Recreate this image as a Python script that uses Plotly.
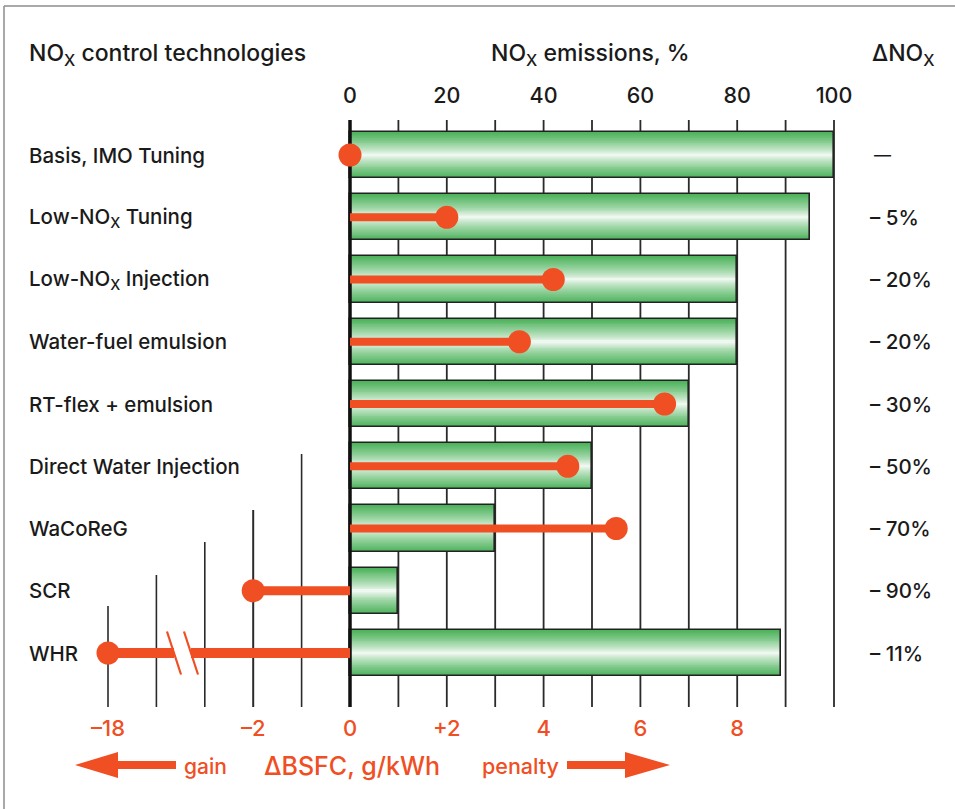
import plotly.graph_objects as go

# ---------------- data ----------------
categories = ["Basis, IMO Tuning", "Low-NO<sub>X</sub> Tuning", "Low-NO<sub>X</sub> Injection",
              "Water-fuel emulsion", "RT-flex + emulsion", "Direct Water Injection",
              "WaCoReG", "SCR", "WHR"]
nox_pct = [100, 95, 80, 80, 70, 50, 30, 10, 89]          # NOx emissions, %
bsfc = [0, 2, 4.2, 3.5, 6.5, 4.5, 5.5, -2, -18]           # delta BSFC, g/kWh
delta_nox = ["—", "– 5%", "– 20%", "– 20%", "– 30%", "– 50%", "– 70%", "– 90%", "– 11%"]

nox_ticks = [0, 20, 40, 60, 80, 100]
bsfc_ticks = [-18, -2, 0, 2, 4, 6, 8]
bsfc_ticktext = ["–18", "–2", "0", "+2", "4", "6", "8"]
nox_grid = [10, 20, 30, 40, 50, 60, 70, 80, 90, 100]
bsfc_grid = [-18, -4, -3, -2, -1]

# ---------------- styling / geometry ----------------
W, H = 955, 809
PX0, PX100 = 350, 834            # pixel of 0 % and 100 %
PPU = (PX100 - PX0) / 100.0
ROW0, ROWSTEP = 155, 62.25       # pixel centre of first row, row spacing
TOP, BOT = 108, 707              # plot area top / bottom pixel
RED = "#f04e23"
GREEN = (78, 179, 92)
FONT = "Inter, DejaVu Sans, sans-serif"
WEIGHT = 500
TXT = "#1a1a1a"
BAR_W = 0.74


def px2x(px):
    return (px - PX0) / PPU


def py2row(py):
    return (py - ROW0) / ROWSTEP


def px2paper(px):
    return px / W


def py2paper(py):
    return (BOT - py) / (BOT - TOP)


def bsfc_pos(v):
    """ΔBSFC (g/kWh) -> position on the broken BSFC axis (linear down to -4, -18 one step beyond)."""
    if v >= -4:
        return v
    return -4 - (-4 - v) / 14


def font(size, color=TXT):
    return dict(size=size, color=color, family=FONT, weight=WEIGHT)


rows = list(range(len(categories)))
xrange_ = [px2x(0), px2x(W)]
x2range_ = [v / 10 for v in xrange_]   # 2 g/kWh per 20 %
yrange_ = [py2row(BOT), py2row(TOP)]

fig = go.Figure()

# gradient bars: stacked overlay of narrowing bands
N = 24
for k in range(N):
    d = 1 - k / N
    t = d ** 0.75
    c = tuple(int(round(255 * (1 - t) + g * t)) for g in GREEN)
    fig.add_trace(go.Bar(
        y=rows, x=nox_pct, orientation="h", width=BAR_W * d,
        marker=dict(color="rgb(%d,%d,%d)" % c, line=dict(width=0)),
        hoverinfo="skip", showlegend=False))
# outline
fig.add_trace(go.Bar(
    y=rows, x=nox_pct, orientation="h", width=BAR_W,
    marker=dict(color="rgba(0,0,0,0)", line=dict(color="#222", width=1.6)),
    hoverinfo="skip", showlegend=False))

# zero line
fig.add_trace(go.Scatter(x=[0, 0], y=[py2row(120), py2row(BOT)], mode="lines",
                         line=dict(color="#111", width=3.5), hoverinfo="skip", showlegend=False))

# red stems on the BSFC axis (x2)
BREAK = (px2x(174) / 10, px2x(191) / 10)
for r, v in zip(rows, bsfc):
    xv = bsfc_pos(v)
    lw = 8 if v >= -1 else (9 if v >= -4 else 10)
    if v < -4:
        segs = [(xv, BREAK[0]), (BREAK[1], 0)]
    else:
        segs = [(0, xv)]
    for a, b in segs:
        fig.add_trace(go.Scatter(x=[a, b], y=[r, r], mode="lines", xaxis="x2",
                                 line=dict(color=RED, width=lw), hoverinfo="skip", showlegend=False))
    if v < -4:
        for cx in BREAK:
            fig.add_trace(go.Scatter(x=[cx - 0.145, cx + 0.145], y=[r - 0.345, r + 0.345], mode="lines",
                                     xaxis="x2", line=dict(color=RED, width=2.2),
                                     hoverinfo="skip", showlegend=False))

# red dots
fig.add_trace(go.Scatter(x=[bsfc_pos(v) for v in bsfc], y=rows, mode="markers", xaxis="x2",
                         marker=dict(color=RED, size=23, line=dict(width=0)),
                         hoverinfo="skip", showlegend=False))

shapes = []
# grid lines
for g in nox_grid:
    shapes.append(dict(type="line", xref="x", yref="y", x0=g, x1=g, y0=py2row(120), y1=py2row(BOT),
                       line=dict(color="#2a2a2a", width=1.8), layer="below"))
grid_tops = [606, 575, 542, 510, 454]
for g, tp in zip(bsfc_grid, grid_tops):
    xg = bsfc_pos(g)
    shapes.append(dict(type="line", xref="x2", yref="y", x0=xg, x1=xg, y0=py2row(tp), y1=py2row(BOT),
                       line=dict(color="#2a2a2a", width=2.0 if g == -2 else 1.6), layer="below"))
# frame
shapes.append(dict(type="line", xref="paper", yref="paper", x0=px2paper(4), x1=px2paper(4),
                   y0=py2paper(6), y1=py2paper(H + 5), line=dict(color="#8c8c8c", width=1.5)))
shapes.append(dict(type="line", xref="paper", yref="paper", x0=px2paper(4), x1=px2paper(W + 5),
                   y0=py2paper(6), y1=py2paper(6), line=dict(color="#8c8c8c", width=1.5)))


def arrow(pts):
    path = "M " + " L ".join("%f,%f" % (px2paper(x), py2paper(y)) for x, y in pts) + " Z"
    return dict(type="path", xref="paper", yref="paper", path=path,
                fillcolor=RED, line=dict(width=0))


shapes.append(arrow([(176, 761), (118, 761), (118, 752), (75, 765), (118, 778), (118, 769), (176, 769)]))
shapes.append(arrow([(567, 761), (625, 761), (625, 752), (670, 765), (625, 778), (625, 769), (567, 769)]))

ann = []
for r, c in zip(rows, categories):
    ann.append(dict(x=px2paper(27), xref="paper", y=r, yref="y", text=c, showarrow=False,
                    xanchor="left", yanchor="middle", font=font(20.5)))
for r, d in zip(rows, delta_nox):
    ann.append(dict(x=px2paper(868 if d != "—" else 872), xref="paper", y=r, yref="y", text=d,
                    showarrow=False, xanchor="left", yanchor="middle",
                    font=font(20.5 if d != "—" else 17)))
hdr = [(27, "left", "NO<sub>X</sub> control technologies"),
       (590, "center", "NO<sub>X</sub> emissions, %"),
       (936, "right", "ΔNO<sub>X</sub>")]
for x, anc, t in hdr:
    ann.append(dict(x=px2paper(x), xref="paper", y=py2paper(55), yref="paper", text=t, showarrow=False,
                    xanchor=anc, yanchor="middle", font=font(23)))
for x, anc, t, s in [(229, "right", "gain", 21), (352, "center", "ΔBSFC, g/kWh", 25),
                     (480, "left", "penalty", 21.5)]:
    ann.append(dict(x=px2paper(x), xref="paper", y=py2paper(766), yref="paper", text=t, showarrow=False,
                    xanchor=anc, yanchor="middle", font=font(s, RED)))

fig.update_layout(
    width=W, height=H, autosize=False,
    margin=dict(l=0, r=0, t=TOP, b=H - BOT, pad=0),
    paper_bgcolor="white", plot_bgcolor="white",
    barmode="overlay", bargap=0,
    showlegend=False,
    xaxis=dict(range=xrange_, side="top", tickmode="array", tickvals=nox_ticks,
               ticktext=[str(t) for t in nox_ticks], showgrid=False, zeroline=False, showline=False,
               ticks="", tickfont=font(21.5), fixedrange=True),
    xaxis2=dict(range=x2range_, overlaying="x", side="bottom", anchor="y", tickmode="array",
                tickvals=[bsfc_pos(v) for v in bsfc_ticks], ticktext=bsfc_ticktext,
                showgrid=False, zeroline=False, showline=False,
                ticks="outside", ticklen=2, tickcolor="rgba(0,0,0,0)",
                tickfont=font(22, RED), fixedrange=True),
    yaxis=dict(range=yrange_, showgrid=False, zeroline=False, showline=False, showticklabels=False,
               ticks="", fixedrange=True),
    shapes=shapes, annotations=ann,
)

fig.write_html("out.html", config={"displayModeBar": False},
               post_script="document.body.style.margin='0';")
